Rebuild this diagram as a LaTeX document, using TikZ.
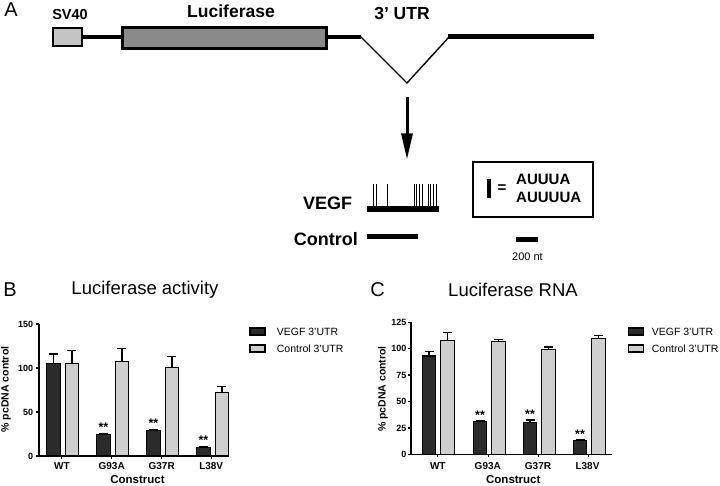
\documentclass[tikz,border=0pt]{standalone}
\usepackage{fontspec}
\setmainfont{Liberation Sans}
\usetikzlibrary{arrows.meta}
\definecolor{darkbar}{HTML}{2B2B2B}
\definecolor{lightbar}{HTML}{CFCFCF}
\definecolor{lucgray}{HTML}{8A8A8A}
\definecolor{svgray}{HTML}{C4C4C4}
% bar with upper error bar: (x : value : error top : fill)
\def\prismbar(#1:#2:#3:#4){\draw[barline,fill=#4] (#1,0) rectangle ++(13.5,#2);
	\draw[barline] (#1+6.75,#2) -- (#1+6.75,#3);
	\draw[barline] (#1+2.25,#3) -- (#1+11.25,#3);}
\tikzset{
	barline/.style={line width=1.2pt},
	axisline/.style={line width=1.3pt},
	txt/.style={inner sep=0pt},
	panellbl/.style={txt,font=\fontsize{20}{22}\selectfont},
	genelbl/.style={txt,font=\bfseries\fontsize{17.5}{20}\selectfont},
	titlelbl/.style={txt,font=\fontsize{18.5}{21}\selectfont},
	ticklbl/.style={txt,font=\bfseries\fontsize{9}{10}\selectfont},
	grplbl/.style={txt,font=\bfseries\fontsize{10}{11}\selectfont},
	axislbl/.style={txt,font=\bfseries\fontsize{10.5}{12}\selectfont},
	legendlbl/.style={txt,font=\fontsize{10.5}{12}\selectfont},
	starlbl/.style={txt,anchor=base,font=\bfseries\fontsize{12.5}{13}\selectfont}
}
\begin{document}
\begin{tikzpicture}[x=1pt,y=-1pt]
				\useasboundingbox (0,0) rectangle (720,486);
				
				% panel A: reporter construct
				\node[panellbl] (labA) at (11,10) {A};
				\node[genelbl,font=\bfseries\fontsize{14.5}{16}\selectfont] (sv) at (70,15) {SV40};
				\node[genelbl] (luc) at (231,11.5) {Luciferase};
				\node[genelbl] (utr) at (402,13.3) {3' UTR};
				
				\draw[line width=3.5pt] (82,37) -- (122,37);
				\draw[line width=3.5pt] (326,37) -- (361,37);
				\draw[line width=1.4pt, line join=miter] (360,36) -- (407,83) -- (449,37);
				\draw[line width=5pt] (448,37) -- (594,37);
				\draw[line width=2.5pt, fill=svgray] (53,28) rectangle (82,46);
				\draw[line width=3pt, fill=lucgray] (122,28) rectangle (326,49);
				
				\draw[line width=3pt, -{Triangle[length=26pt,width=11pt]}] (407,97) -- (407,159.5);
				
				% 3'UTR maps
				\node[genelbl,font=\bfseries\fontsize{18}{20}\selectfont] (vegf) at (327.5,203.7) {VEGF};
				\node[genelbl,font=\bfseries\fontsize{18}{20}\selectfont] (ctrl) at (325.8,239) {Control};
				\fill (367,206) rectangle (439,212);
				\foreach \t in {373.6,376.2,387.2,414,416.5,419.2,422.7,428,430.6,433.3,436.3}
					\draw[line width=0.9pt] (\t,184) -- (\t,206);
				\fill (367,234) rectangle (418,239.5);
				\fill (516,237.5) rectangle (538,242.5);
				\node[txt,font=\fontsize{11}{12}\selectfont] (nt) at (527.5,257) {200 nt};
				
				\draw[line width=2pt] (473,162) rectangle (593,217);
				\draw[line width=3.5pt] (489,179) -- (489,198);
				\node[txt,font=\bfseries\fontsize{15}{16}\selectfont] (eq) at (502,188.5) {=};
				\node[txt,anchor=west,font=\bfseries\fontsize{15}{16}\selectfont] (au1) at (516,179.5) {AUUUA};
				\node[txt,anchor=west,font=\bfseries\fontsize{15}{16}\selectfont] (au2) at (516,197.5) {AUUUUA};
				
				% panel B: luciferase activity
				\node[panellbl] (labB) at (10,290) {B};
				\node[titlelbl] (titB) at (145,290) {Luciferase activity};
				\begin{scope}[shift={(39,456)}, yscale=-0.88]
					\draw[axisline] (0,150) -- (0,0) -- (189.3,0);
					\foreach \v in {0,50,100,150} {
						\draw[axisline] (-3,\v) -- (0,\v);
						\node[ticklbl,anchor=east] (bt\v) at (-5.7,\v) {\v};
					}
					\foreach \g in {22.7,72.7,122.7,172.7}
						\draw[axisline] (\g,0) -- (\g,-3.4);
					\prismbar(7.7:105:116:darkbar)
					\prismbar(26.2:105.5:120:lightbar)
					\prismbar(57.7:24:25.5:darkbar)
					\prismbar(76.2:107:122:lightbar)
					\prismbar(107.7:29:30:darkbar)
					\prismbar(126.2:101:113:lightbar)
					\prismbar(157.7:10:11:darkbar)
					\prismbar(176.2:72.5:79:lightbar)
					\node[starlbl] (sb1) at (64.45,27.5) {**};
					\node[starlbl] (sb2) at (114.45,32) {**};
					\node[starlbl] (sb3) at (164.45,12.8) {**};
				\end{scope}
				\node[grplbl] (bwt) at (62,466) {WT};
				\node[grplbl] (bg93) at (111.7,466) {G93A};
				\node[grplbl] (bg37) at (161.7,466) {G37R};
				\node[grplbl] (bl38) at (211.2,466) {L38V};
				\node[axislbl,font=\bfseries\fontsize{11.5}{13}\selectfont] (bx) at (137.5,480) {Construct};
				\node[axislbl,rotate=90] (by) at (6,389.5) {\% pcDNA control};
				\draw[barline,fill=darkbar] (250,328) rectangle (265,335);
				\draw[barline,fill=lightbar] (250,345) rectangle (265,352);
				\node[legendlbl,anchor=west] (blv) at (276.7,331.7) {VEGF 3'UTR};
				\node[legendlbl,anchor=west] (blc) at (276.7,348.3) {Control 3'UTR};
				
				% panel C: luciferase RNA
				\node[panellbl] (labC) at (377.5,290) {C};
				\node[titlelbl] (titC) at (513,290) {Luciferase RNA};
				\begin{scope}[shift={(411,454.3)}, yscale=-1.056]
					\draw[axisline] (0,125) -- (0,0) -- (201,0);
					\foreach \v in {0,25,50,75,100,125} {
						\draw[axisline] (-3,\v) -- (0,\v);
						\node[ticklbl,anchor=east] (ct\v) at (-4.5,\v) {\v};
					}
					\foreach \g in {26.3,77.3,127.3,177.3}
						\draw[axisline] (\g,0) -- (\g,-2.8);
					\prismbar(11.3:93:97:darkbar)
					\prismbar(29.8:108:115.5:lightbar)
					\prismbar(62.3:31:32:darkbar)
					\prismbar(80.8:107:109:lightbar)
					\prismbar(112.3:30:32.5:darkbar)
					\prismbar(130.8:99.4:101.6:lightbar)
					\prismbar(162.3:13:14:darkbar)
					\prismbar(180.8:110:112.3:lightbar)
					\node[starlbl] (sc1) at (69.05,33.4) {**};
					\node[starlbl] (sc2) at (119.05,33.9) {**};
					\node[starlbl] (sc3) at (169.05,15.4) {**};
				\end{scope}
				\node[grplbl] (cwt) at (437.8,466) {WT};
				\node[grplbl] (cg93) at (487.8,466) {G93A};
				\node[grplbl] (cg37) at (538,466) {G37R};
				\node[grplbl] (cl38) at (587.5,466) {L38V};
				\node[axislbl,font=\bfseries\fontsize{11.5}{13}\selectfont] (cx) at (513.3,480) {Construct};
				\node[axislbl,rotate=90] (cy) at (383,389) {\% pcDNA control};
				\draw[barline,fill=darkbar] (628.3,328) rectangle (643.3,335);
				\draw[barline,fill=lightbar] (628.3,345) rectangle (643.3,352);
				\node[legendlbl,anchor=west] (clv) at (651.7,331.7) {VEGF 3'UTR};
				\node[legendlbl,anchor=west] (clc) at (651.7,348.3) {Control 3'UTR};
			\end{tikzpicture}
\end{document}
